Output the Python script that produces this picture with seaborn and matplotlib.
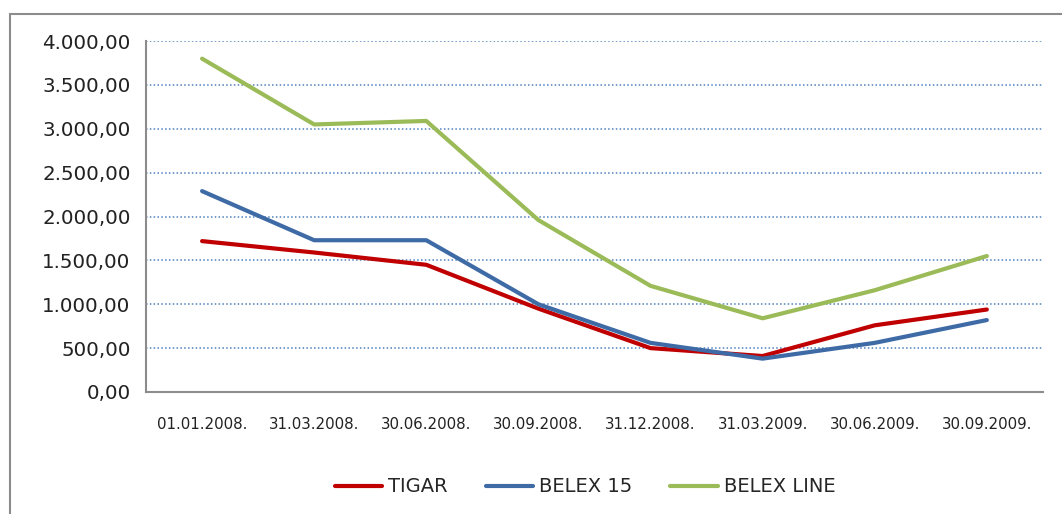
import pandas as pd
import numpy as np
import matplotlib.pyplot as plt
import matplotlib.ticker as mticker
import seaborn as sns

# Data
dates = ['01.01.2008.', '31.03.2008.', '30.06.2008.', '30.09.2008.',
         '31.12.2008.', '31.03.2009.', '30.06.2009.', '30.09.2009.']
tigar = [1720, 1590, 1450, 950, 500, 410, 760, 940]
belex15 = [2290, 1730, 1730, 1000, 560, 380, 560, 820]
belexline = [3800, 3050, 3090, 1960, 1210, 840, 1160, 1550]

series = ['TIGAR', 'BELEX 15', 'BELEX LINE']
colors = ['#c00000', '#3e6aa6', '#9bbb59']

df = pd.DataFrame({'date': dates, 'TIGAR': tigar,
                   'BELEX 15': belex15, 'BELEX LINE': belexline})
df['x'] = np.arange(len(dates))
long_df = df.melt(id_vars=['date', 'x'], value_vars=series,
                  var_name='series', value_name='value')

sns.set_style('white')
plt.rcParams['font.family'] = ['DejaVu Sans']

fig = plt.figure(figsize=(10.62, 5.14), dpi=100)
ax = fig.add_axes([0.1375, 0.2374, 0.8445, 0.6826])

# outer chart border
fig.add_artist(plt.Rectangle((10 / 1062, -0.1), 1.2, 1 - 14 / 514 + 0.1,
                             transform=fig.transFigure, fill=False,
                             edgecolor='#8c8c8c', linewidth=1.5))

sns.lineplot(data=long_df, x='x', y='value', hue='series', hue_order=series,
             palette=colors, linewidth=3.0, ax=ax, legend=False)

ax.set_xlim(-0.5, len(dates) - 0.5)
ax.set_ylim(0, 4000)
ax.yaxis.set_major_locator(mticker.MultipleLocator(500))


def fmt(v, pos):
    s = f'{v:,.2f}'
    return s.replace(',', 'X').replace('.', ',').replace('X', '.')


ax.yaxis.set_major_formatter(mticker.FuncFormatter(fmt))
ax.grid(axis='y', color='#4f81bd', linestyle=(0, (1, 1.5)), linewidth=1.1)
ax.set_axisbelow(True)

# category boundaries as ticks, labels in between
ax.set_xticks(np.arange(-0.5, len(dates), 1))
ax.set_xticklabels([])
ax.set_xticks(np.arange(len(dates)), minor=True)
ax.set_xticklabels(dates, minor=True, fontsize=10.8, color='#222222')
ax.tick_params(axis='x', which='minor', length=0, pad=18)
ax.tick_params(axis='x', which='major', length=6.5, color='#8c8c8c', width=1.2)
ax.tick_params(axis='y', length=6.5, color='#8c8c8c', width=1.2,
               labelsize=14.3, labelcolor='#222222', pad=4.5)

for side in ['top', 'right']:
    ax.spines[side].set_visible(False)
for side in ['left', 'bottom']:
    ax.spines[side].set_color('#8c8c8c')
    ax.spines[side].set_linewidth(1.5)

ax.set_xlabel('')
ax.set_ylabel('')

handles = [plt.Line2D([], [], color=c, linewidth=3.0) for c in colors]
fig.legend(handles, series, loc='center', bbox_to_anchor=(0.551, 1 - 487 / 514),
           ncol=3, frameon=False, fontsize=14, handlelength=2.45,
           handletextpad=0.3, columnspacing=1.95)

fig.savefig('out.png', dpi=100)
